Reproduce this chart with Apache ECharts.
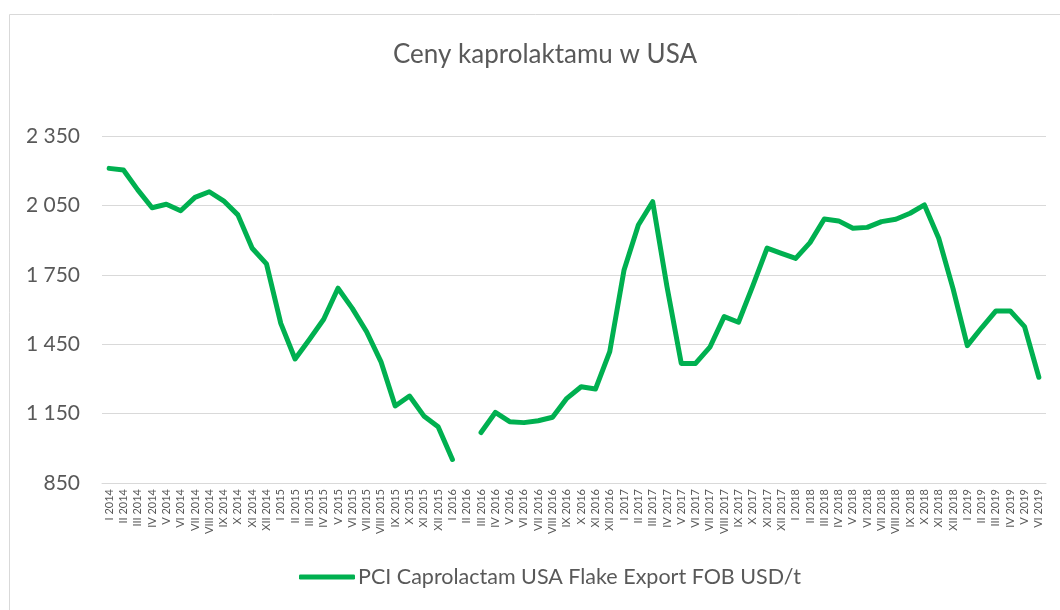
<!DOCTYPE html>
<html>
<head>
<meta charset="utf-8">
<script src="https://cdn.jsdelivr.net/npm/echarts@6/dist/echarts.min.js"></script>
<style>
  html, body { margin: 0; padding: 0; background: #fff; }
</style>
</head>
<body>
<div id="chart" style="width: 1060px;height:610px;"></div>
<script>
var years = ['2014', '2015', '2016', '2017', '2018', '2019']
var months = ['I', 'II', 'III', 'IV', 'V', 'VI', 'VII', 'VIII', 'IX', 'X', 'XI', 'XII']
// miesiace od I 2014 do VI 2019
var categories = []
years.forEach(function (y) {
  months.forEach(function (m) {
    if (y === '2019' && months.indexOf(m) > 5) return
    categories.push(m + ' ' + y)
  })
})

var prices2014 = [2210, 2203, 2117, 2040, 2055, 2027, 2085, 2109, 2070, 2009, 1865, 1797]
var prices2015 = [1540, 1386, 1470, 1558, 1692, 1605, 1504, 1375, 1183, 1226, 1140, 1093]
var prices2016 = [952, null, 1068, 1155, 1115, 1111, 1119, 1134, 1216, 1266, 1256, 1418]
var prices2017 = [1771, 1965, 2066, 1699, 1367, 1367, 1437, 1569, 1545, 1702, 1865, 1843]
var prices2018 = [1821, 1889, 1991, 1983, 1951, 1955, 1980, 1990, 2016, 2052, 1908, 1690]
var prices2019 = [1444, 1521, 1594, 1594, 1526, 1307]
var prices = [].concat(prices2014, prices2015, prices2016, prices2017, prices2018, prices2019)

var yTicks = [850, 1150, 1450, 1750, 2050, 2350]

var font = 'Lato, "Noto Sans", sans-serif'
var grey = '#595959'

var option = {
  animation: false,
  title: {
    text: 'Ceny kaprolaktamu w USA',
    left: 388,
    top: 37,
    textStyle: {
      color: grey,
      fontFamily: font,
      fontSize: 26,
      fontWeight: 'normal'
    }
  },
  graphic: [{
    type: 'rect',
    shape: { x: 9.5, y: 14.5, width: 1200, height: 800 },
    style: { fill: 'none', stroke: '#d9d9d9', lineWidth: 1 },
    silent: true
  }],
  grid: {
    left: 102,
    right: 14,
    top: 136,
    bottom: 127
  },
  legend: {
    bottom: 17,
    left: 294,
    icon: 'roundRect',
    itemWidth: 56,
    itemHeight: 5,
    itemGap: 4,
    textStyle: {
      color: grey,
      fontFamily: font,
      fontSize: 21.5,
      padding: [0, 0, 0, -2]
    }
  },
  xAxis: [{
    type: 'category',
    boundaryGap: true,
    data: categories,
    axisLine: {
      lineStyle: { color: '#d9d9d9', width: 1 }
    },
    axisTick: { show: false },
    axisLabel: {
      interval: 0,
      rotate: 90,
      margin: 6,
      color: grey,
      fontFamily: font,
      fontSize: 11
    }
  }],
  yAxis: [{
    type: 'value',
    min: yTicks[0],
    max: yTicks[yTicks.length - 1],
    interval: 300,
    axisLine: { show: false },
    axisTick: { show: false },
    splitLine: {
      show: true,
      lineStyle: { color: '#d9d9d9', width: 1 }
    },
    axisLabel: {
      margin: 22,
      color: grey,
      fontFamily: font,
      fontSize: 21,
      formatter: function (v) {
        return String(v).replace(/\B(?=(\d{3})+(?!\d))/g, ' ')
      }
    }
  }],
  series: [{
    name: 'PCI Caprolactam USA Flake Export FOB USD/t',
    type: 'line',
    data: prices,
    symbol: 'none',
    connectNulls: false,
    lineStyle: {
      color: '#00b050',
      width: 5,
      cap: 'round',
      join: 'round'
    },
    itemStyle: { color: '#00b050' }
  }]
}

var myChart = echarts.init(document.getElementById('chart'))
myChart.setOption(option)
</script>
</body>
</html>
